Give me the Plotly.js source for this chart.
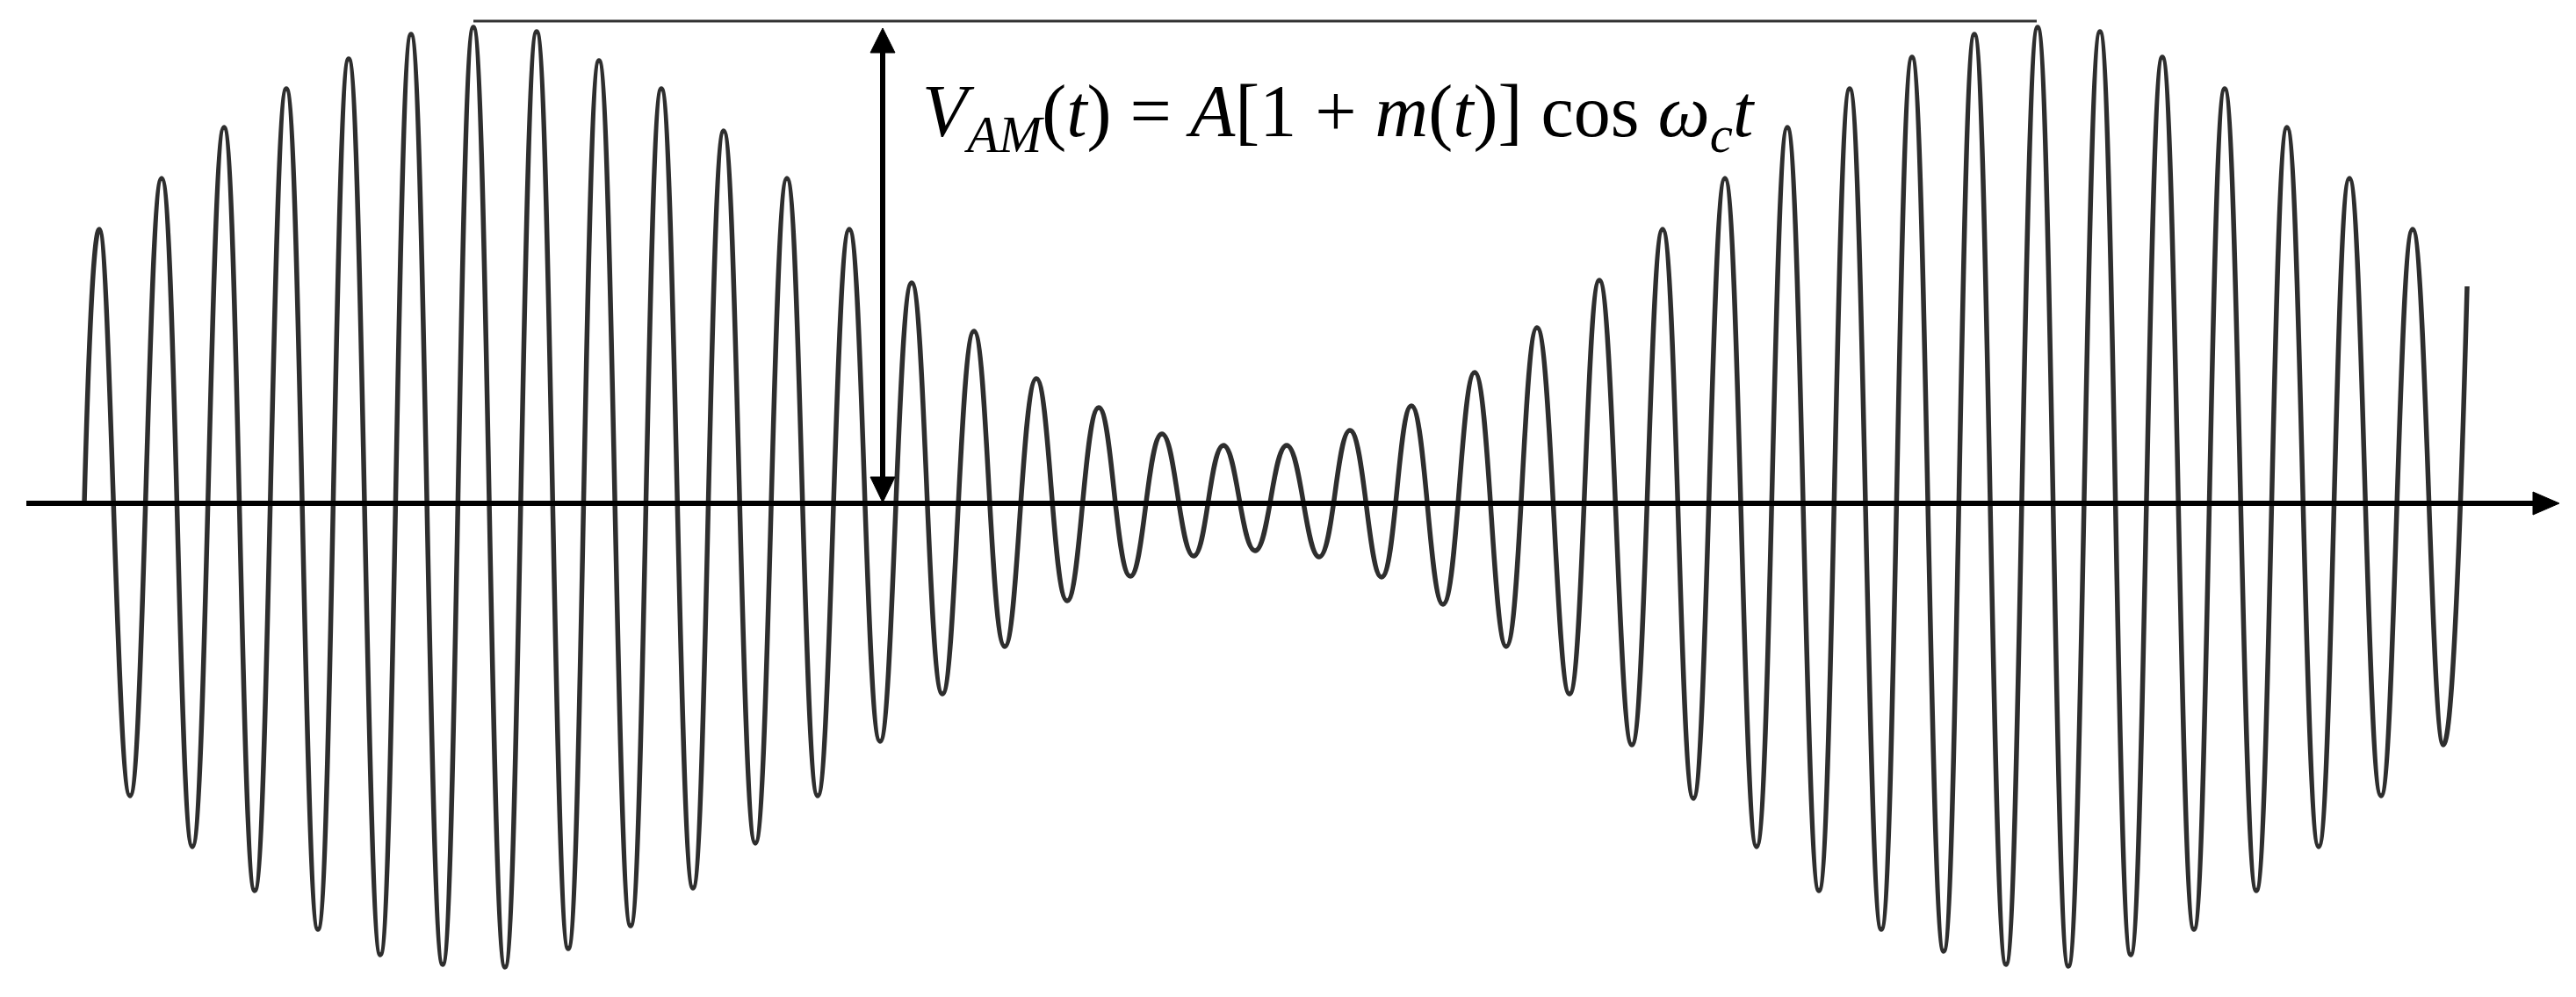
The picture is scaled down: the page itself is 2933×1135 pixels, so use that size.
<!DOCTYPE html>
<html>
<head>
<meta charset="utf-8">
<script src="https://cdn.plot.ly/plotly-3.0.1.min.js"></script>
<style>html,body{margin:0;padding:0;background:#fff;}#chart{width:2933px;height:1135px;}</style>
</head>
<body>
<div id="chart"></div>
<script>
// Time positions (arbitrary units) of the successive extrema of the AM waveform
const extremaT = [113,148,184,219,255,290,326,362,397,433,468,504,539,575,611,647,682,718,753,789,
  824,860,896,931,967,1002,1038,1073,1109,1144,1180,1215,1251,1287,1323,1359,1393,1429,1465,1502,
  1537,1573,1607,1643,1679,1715,1750,1787,1821,1858,1893,1928,1964,2000,2035,2071,2106,2142,2177,2213,
  2248,2284,2320,2355,2391,2426,2462,2498,2533,2569,2604,2640,2675,2711,2747,2782];
// Amplitude of the waveform at each extremum (arbitrary units)
const extremaV = [312,-333,370,-391,428,-441,472,-485,506,-514,534,-525,542,-528,537,-507,504,-481,472,-438,
  424,-387,370,-333,312,-271,251,-217,196,-163,142,-111,109,-83,79,-60,66,-54,66,-61,
  83,-84,111,-115,149,-163,200,-217,254,-275,312,-336,370,-391,428,-441,472,-485,508,-510,
  534,-525,542,-527,537,-514,508,-485,472,-441,428,-391,370,-333,312,-275];
// start and end samples of the trace
const startT = 96, startV = 0;
const endT = 2809, endV = 247;

const tAll = [startT].concat(extremaT, [endT]);
const vAll = [startV].concat(extremaV, [endV]);

const trace = {
  x: tAll, y: vAll, type: 'scatter', mode: 'lines',
  line: {color: '#2e2e2e', width: 5.5, shape: 'spline', smoothing: 1.3},
  hoverinfo: 'skip'
};

const layout = {
  width: 2933, height: 1135,
  margin: {l: 0, r: 0, t: 0, b: 0},
  paper_bgcolor: '#ffffff', plot_bgcolor: '#ffffff',
  showlegend: false,
  xaxis: {range: [0, 2933], visible: false, fixedrange: true},
  yaxis: {range: [-562, 573], visible: false, fixedrange: true},
  shapes: [
    // top reference line
    {type: 'line', xref: 'x', yref: 'y', x0: 539, x1: 2319, y0: 549, y1: 549,
     line: {color: '#333', width: 3}},
    // time axis
    {type: 'line', xref: 'x', yref: 'y', x0: 30, x1: 2890, y0: 0, y1: 0,
     line: {color: '#000', width: 6}},
    {type: 'path', xref: 'x', yref: 'y', path: 'M 2914 0 L 2884 13 L 2884 -13 Z',
     fillcolor: '#000', line: {color: '#000', width: 1}},
    // double-headed amplitude arrow
    {type: 'line', xref: 'x', yref: 'y', x0: 1005, x1: 1005, y0: 26, y1: 518,
     line: {color: '#000', width: 6}},
    {type: 'path', xref: 'x', yref: 'y', path: 'M 1005 541 L 991 513 L 1019 513 Z',
     fillcolor: '#000', line: {color: '#000', width: 1}},
    {type: 'path', xref: 'x', yref: 'y', path: 'M 1005 1 L 991 30 L 1019 30 Z',
     fillcolor: '#000', line: {color: '#000', width: 1}}
  ],
  annotations: [
    {x: 1048, y: 440, xref: 'x', yref: 'y', xanchor: 'left', yanchor: 'middle', showarrow: false,
     text: '<i>V</i><sub><i>AM</i></sub>(<i>t</i>) = <i>A</i>[1 + <i>m</i>(<i>t</i>)] cos <i>ω</i><sub><i>c</i></sub><i>t</i>',
     font: {family: 'Liberation Serif, DejaVu Serif, serif', size: 84, color: '#000'}}
  ]
};

Plotly.newPlot('chart', [trace], layout, {staticPlot: true, displayModeBar: false});
</script>
</body>
</html>
